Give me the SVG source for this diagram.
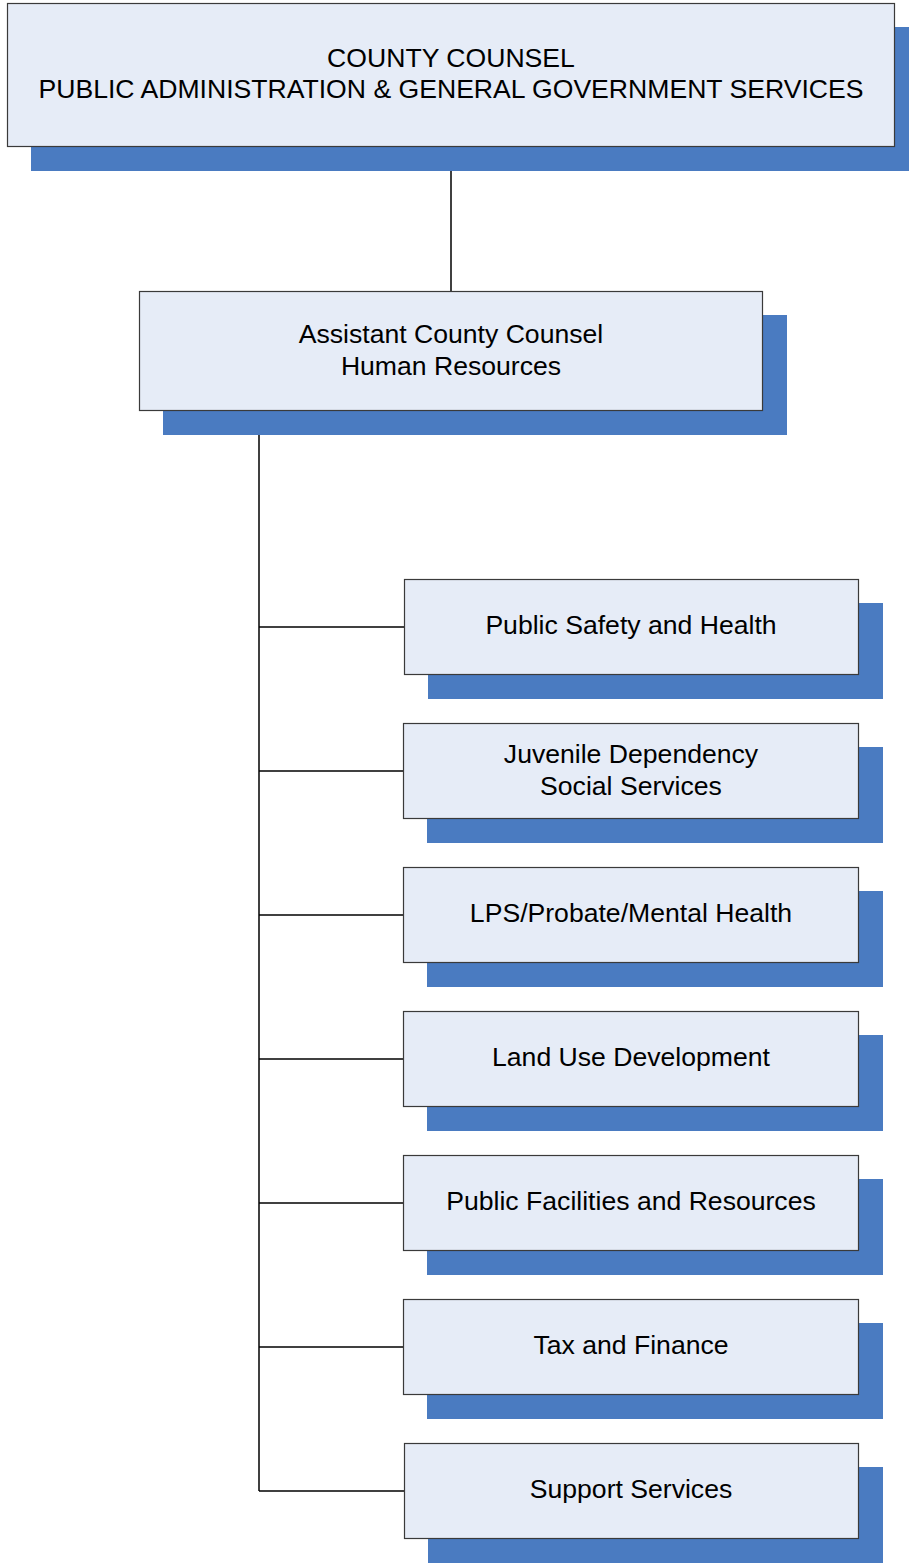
<svg xmlns="http://www.w3.org/2000/svg" width="909" height="1565" viewBox="0 0 909 1565">
<style>
.sh{fill:#4A7BC1;}
.bx{fill:#E6ECF7;stroke:#3a3a3a;stroke-width:1.2;}
.t{font-family:"Liberation Sans",Arial,sans-serif;font-size:26.6px;fill:#000;text-anchor:middle;}
.c{stroke:#000;stroke-width:1.5;fill:none;}
</style>
<rect width="909" height="1565" fill="#fff"/>
<g id="connectors">
<line class="c" x1="451" y1="171" x2="451" y2="291"/>
<line class="c" x1="259" y1="435" x2="259" y2="1491"/>
<line class="c" x1="259" y1="627" x2="404" y2="627"/>
<line class="c" x1="259" y1="771" x2="403" y2="771"/>
<line class="c" x1="259" y1="915" x2="403" y2="915"/>
<line class="c" x1="259" y1="1059" x2="403" y2="1059"/>
<line class="c" x1="259" y1="1203" x2="403" y2="1203"/>
<line class="c" x1="259" y1="1347" x2="403" y2="1347"/>
<line class="c" x1="259" y1="1491" x2="404" y2="1491"/>
</g>
<g id="county-counsel">
<rect class="sh" x="31" y="27" width="878" height="144"/>
<rect class="bx" x="7.5" y="3.5" width="887" height="143"/>
<text class="t" x="451" y="67">COUNTY COUNSEL</text>
<text class="t" x="451" y="98">PUBLIC ADMINISTRATION &amp; GENERAL GOVERNMENT SERVICES</text>
</g>
<g id="assistant">
<rect class="sh" x="163" y="315" width="624" height="120"/>
<rect class="bx" x="139.5" y="291.5" width="623" height="119"/>
<text class="t" x="451" y="343">Assistant County Counsel</text>
<text class="t" x="451" y="375">Human Resources</text>
</g>
<g id="public-safety">
<rect class="sh" x="428" y="603" width="455" height="96"/>
<rect class="bx" x="404.5" y="579.5" width="454" height="95"/>
<text class="t" x="631" y="634">Public Safety and Health</text>
</g>
<g id="juvenile">
<rect class="sh" x="427" y="747" width="456" height="96"/>
<rect class="bx" x="403.5" y="723.5" width="455" height="95"/>
<text class="t" x="631" y="763">Juvenile Dependency</text>
<text class="t" x="631" y="795">Social Services</text>
</g>
<g id="lps">
<rect class="sh" x="427" y="891" width="456" height="96"/>
<rect class="bx" x="403.5" y="867.5" width="455" height="95"/>
<text class="t" x="631" y="922">LPS/Probate/Mental Health</text>
</g>
<g id="land-use">
<rect class="sh" x="427" y="1035" width="456" height="96"/>
<rect class="bx" x="403.5" y="1011.5" width="455" height="95"/>
<text class="t" x="631" y="1066">Land Use Development</text>
</g>
<g id="facilities">
<rect class="sh" x="427" y="1179" width="456" height="96"/>
<rect class="bx" x="403.5" y="1155.5" width="455" height="95"/>
<text class="t" x="631" y="1210">Public Facilities and Resources</text>
</g>
<g id="tax">
<rect class="sh" x="427" y="1323" width="456" height="96"/>
<rect class="bx" x="403.5" y="1299.5" width="455" height="95"/>
<text class="t" x="631" y="1354">Tax and Finance</text>
</g>
<g id="support">
<rect class="sh" x="428" y="1467" width="455" height="96"/>
<rect class="bx" x="404.5" y="1443.5" width="454" height="95"/>
<text class="t" x="631" y="1498">Support Services</text>
</g>
</svg>
